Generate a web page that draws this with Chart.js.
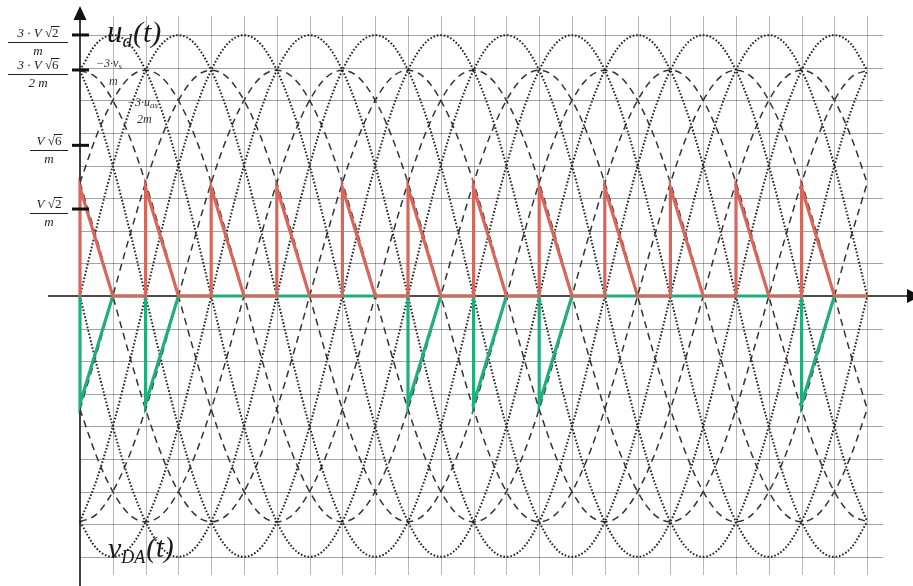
<!DOCTYPE html>
<html><head><meta charset="utf-8">
<script src="https://cdn.jsdelivr.net/npm/chart.js@4.4.1/dist/chart.umd.min.js"></script>
<style>html,body{margin:0;padding:0;background:#fff;overflow:hidden}canvas{display:block}</style>
</head><body><canvas id="c" width="913" height="586"></canvas>
<script>
// ---------- data (units: x in electrical degrees, y in V/m) ----------
const sampleStepDeg = 15;
const spanDeg = 720;
// one period of the dotted (line) waveform, sampled every 15 deg, peak at 30 deg
const dottedWave = [3.67,4.10,4.24,4.10,3.67,3.00,2.12,1.10,0,-1.10,-2.12,-3.00,-3.67,-4.10,-4.24,-4.10,-3.67,-3.00,-2.12,-1.10,0,1.10,2.12,3.00];
// one period of the dashed waveform, sampled every 15 deg, peak at 0 deg
const dashedWave = [3.67,3.55,3.18,2.60,1.84,0.95,0,-0.95,-1.84,-2.60,-3.18,-3.55,-3.67,-3.55,-3.18,-2.60,-1.84,-0.95,0,0.95,1.84,2.60,3.18,3.55];
const phaseShiftsDeg = [0,60,120,180,240,300];
const pulseStartsDeg = [0,60,120,180,240,300,360,420,480,540,600,660];
const redPeaks     = [1.76,1.76,1.76,1.76,1.76,1.76,1.76,1.76,1.76,1.76,1.76,1.76];
const greenTroughs = [-1.75,-1.75,0,0,0,-1.75,-1.75,-1.75,0,0,0,-1.75];
const pulseFallDeg = 30;
const pulseWidthDeg = 60;
const yTickValues = [4.243, 3.674, 2.449, 1.414];
const yTickLabels = [
  {num:"3 · V ", rad:"2", den:"m"},
  {num:"3 · V ", rad:"6", den:"2 m"},
  {num:"V ", rad:"6", den:"m"},
  {num:"V ", rad:"2", den:"m"}
];
const gridStepXDeg = 30;
const gridStepY = 0.5303;
const gridCountY = 8;

// ---------- build datasets ----------
function waveSeries(wave, shiftDeg){
  const pts = [];
  const shiftIdx = Math.round(shiftDeg / sampleStepDeg);
  const n = wave.length;
  for (let i = 0; i * sampleStepDeg <= spanDeg; i++){
    pts.push({x: i * sampleStepDeg, y: wave[((i - shiftIdx) % n + n) % n]});
  }
  return pts;
}
function sawSeries(levels){
  const pts = [];
  pulseStartsDeg.forEach((s, k) => {
    const v = levels[k];
    pts.push({x: s, y: 0});
    if (v !== 0){
      pts.push({x: s, y: v});
      pts.push({x: s + pulseFallDeg, y: 0});
    }
    pts.push({x: s + pulseWidthDeg, y: 0});
  });
  return pts;
}

const datasets = [];
datasets.push({data: sawSeries(redPeaks), borderColor: '#d8665a', borderWidth: 3.2, tension: 0, order: 0});
datasets.push({data: sawSeries(greenTroughs), borderColor: '#1fae7c', borderWidth: 3.2, tension: 0, order: 1});
phaseShiftsDeg.forEach(s => {
  datasets.push({data: waveSeries(dottedWave, s), borderColor: '#222', borderWidth: 2, borderDash: [1.6, 1.9],
    cubicInterpolationMode: 'monotone', order: 3});
  datasets.push({data: waveSeries(dashedWave, s), borderColor: '#333', borderWidth: 1.5, borderDash: [7, 5],
    cubicInterpolationMode: 'monotone', order: 4});
});

// ---------- decorations drawn through the scales ----------
const overlay = {
  id: 'overlay',
  beforeDatasetsDraw(chart){
    const {ctx, scales: {x, y}} = chart;
    ctx.save();
    const x0 = x.getPixelForValue(0), x1 = x.getPixelForValue(spanDeg);
    const yTop = y.getPixelForValue(gridCountY * gridStepY), yBot = y.getPixelForValue(-gridCountY * gridStepY);
    ctx.lineWidth = 1;
    ctx.strokeStyle = 'rgba(0,0,0,0.28)';
    for (let d = gridStepXDeg; d <= spanDeg; d += gridStepXDeg){
      const px = Math.round(x.getPixelForValue(d)) + 0.5;
      ctx.beginPath(); ctx.moveTo(px, yTop - 19); ctx.lineTo(px, yBot + 18); ctx.stroke();
    }
    ctx.strokeStyle = 'rgba(0,0,0,0.36)';
    for (let k = -gridCountY; k <= gridCountY; k++){
      if (k === 0) continue;
      const py = Math.round(y.getPixelForValue(k * gridStepY)) + 0.5;
      ctx.beginPath(); ctx.moveTo(x0, py); ctx.lineTo(x1 + 16, py); ctx.stroke();
    }
    // axes
    ctx.strokeStyle = '#111'; ctx.fillStyle = '#111'; ctx.lineWidth = 1.6;
    const y0 = y.getPixelForValue(0);
    ctx.beginPath(); ctx.moveTo(48, y0); ctx.lineTo(908, y0); ctx.stroke();
    ctx.beginPath(); ctx.moveTo(x0, 586); ctx.lineTo(x0, 18); ctx.stroke();
    ctx.beginPath(); ctx.moveTo(x0, 6); ctx.lineTo(x0 - 6.5, 20); ctx.lineTo(x0 + 6.5, 20); ctx.closePath(); ctx.fill();
    ctx.beginPath(); ctx.moveTo(921, y0); ctx.lineTo(907, y0 - 7); ctx.lineTo(907, y0 + 7); ctx.closePath(); ctx.fill();
    ctx.restore();
  },
  afterDatasetsDraw(chart){
    const {ctx, scales: {x, y}} = chart;
    ctx.save();
    const x0 = x.getPixelForValue(0);
    // y tick dashes
    ctx.fillStyle = '#111';
    yTickValues.forEach(v => { const py = y.getPixelForValue(v); ctx.fillRect(x0 - 8, py - 1.5, 17, 3); });
    // fraction labels
    const lineY = [42, 74, 150, 213];
    const lineX = [[8, 68], [8, 68], [30, 68], [30, 68]];
    const F = 13;
    yTickLabels.forEach((L, i) => {
      const ly = lineY[i], [a, b] = lineX[i];
      ctx.strokeStyle = '#222'; ctx.lineWidth = 1;
      ctx.beginPath(); ctx.moveTo(a, ly + 0.5); ctx.lineTo(b, ly + 0.5); ctx.stroke();
      ctx.font = 'italic ' + F + 'px "Liberation Serif", serif';
      const wNum = ctx.measureText(L.num).width;
      ctx.font = F + 'px "Liberation Serif", serif';
      const wSq = ctx.measureText('√').width, wR = ctx.measureText(L.rad).width;
      const total = wNum + wSq + wR;
      let sx = (a + b) / 2 - total / 2;
      ctx.font = 'italic ' + F + 'px "Liberation Serif", serif';
      ctx.fillStyle = '#222';
      ctx.fillText(L.num, sx, ly - 5);
      ctx.font = F + 'px "Liberation Serif", serif';
      ctx.fillText('√', sx + wNum, ly - 5);
      ctx.fillText(L.rad, sx + wNum + wSq, ly - 5);
      ctx.beginPath(); ctx.moveTo(sx + wNum + wSq - 1, ly - 15.5); ctx.lineTo(sx + wNum + wSq + wR + 1, ly - 15.5); ctx.stroke();
      ctx.font = 'italic ' + F + 'px "Liberation Serif", serif';
      const wd = ctx.measureText(L.den).width;
      ctx.fillText(L.den, (a + b) / 2 - wd / 2, ly + 13);
    });
    // curve name labels
    ctx.fillStyle = '#1a1a1a';
    ctx.font = 'italic 31px "Liberation Serif", serif';
    ctx.fillText('u', 107, 42);
    let w = ctx.measureText('u').width;
    ctx.font = 'italic 19px "Liberation Serif", serif';
    ctx.fillText('d', 107 + w, 47);
    let w2 = ctx.measureText('d').width;
    ctx.font = 'italic 30px "Liberation Serif", serif';
    ctx.fillText('(t)', 107 + w + w2 + 1, 42);

    ctx.font = 'italic 30px "Liberation Serif", serif';
    ctx.fillText('v', 108, 558);
    w = ctx.measureText('v').width;
    ctx.font = 'italic 18px "Liberation Serif", serif';
    ctx.fillText('DA', 108 + w, 563);
    w2 = ctx.measureText('DA').width;
    ctx.font = 'italic 29px "Liberation Serif", serif';
    ctx.fillText('(t)', 108 + w + w2 + 1, 557);

    // small annotations
    ctx.fillStyle = '#333';
    ctx.font = 'italic 12px "Liberation Serif", serif';
    ctx.fillText('−3·v', 96, 67);
    w = ctx.measureText('−3·v').width;
    ctx.font = 'italic 9px "Liberation Serif", serif';
    ctx.fillText('s', 96 + w, 69);
    ctx.font = 'italic 12px "Liberation Serif", serif';
    ctx.fillText('m', 109, 85);
    ctx.fillText('−3·u', 127, 106);
    w = ctx.measureText('−3·u').width;
    ctx.font = 'italic 9px "Liberation Serif", serif';
    ctx.fillText('as', 127 + w, 108);
    ctx.font = 'italic 12px "Liberation Serif", serif';
    ctx.fillText('2m', 137, 123);
    ctx.restore();
  }
};

const pxPerDeg = 32.8 / 30, originX = 80;
const pxPerUnit = 61.52, originY = 296;
new Chart(document.getElementById('c'), {
  type: 'line',
  data: {datasets},
  options: {
    responsive: false, animation: false, devicePixelRatio: 1,
    layout: {padding: 0},
    elements: {point: {radius: 0}, line: {fill: false, borderCapStyle: 'butt'}},
    plugins: {legend: {display: false}, tooltip: {enabled: false}},
    scales: {
      x: {type: 'linear', display: false, min: -originX / pxPerDeg, max: (913 - originX) / pxPerDeg},
      y: {type: 'linear', display: false, min: -(586 - originY) / pxPerUnit, max: originY / pxPerUnit}
    }
  },
  plugins: [overlay]
});
</script></body></html>
